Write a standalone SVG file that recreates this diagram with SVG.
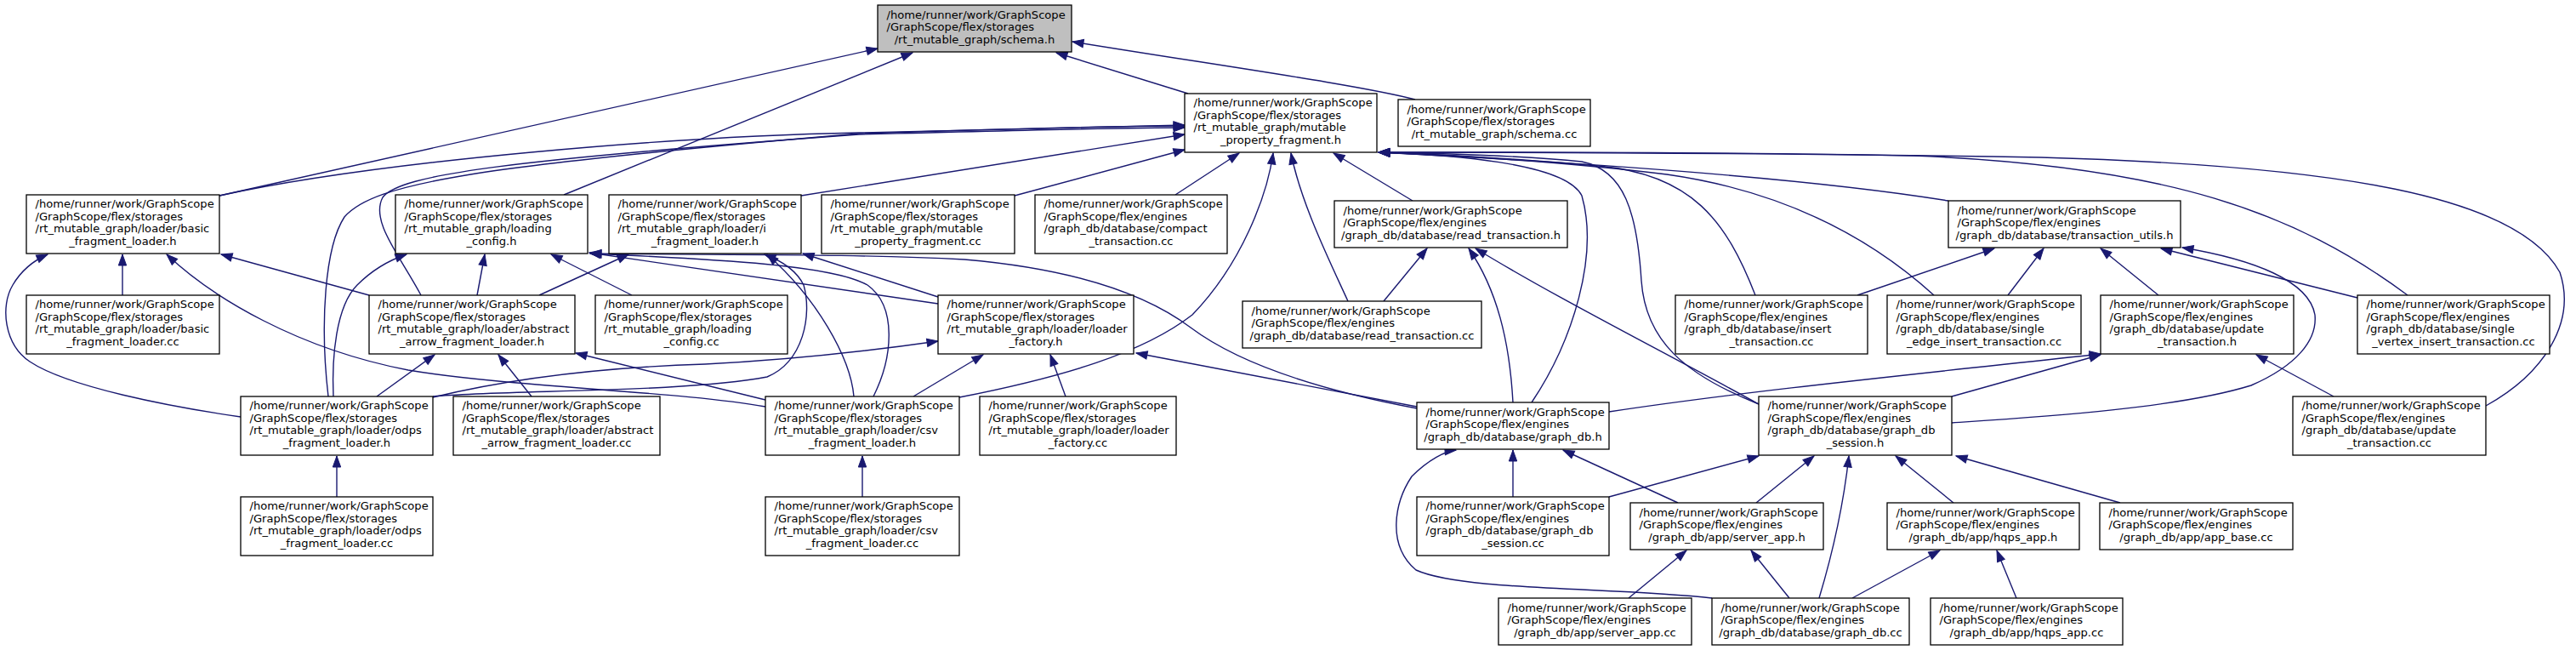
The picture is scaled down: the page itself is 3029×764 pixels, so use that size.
<svg xmlns="http://www.w3.org/2000/svg" width="3029" height="764" viewBox="0 0 3029 764">
<style>
.e{fill:none;stroke:#191970;stroke-width:1.4}
.n rect{fill:#fff;stroke:#000;stroke-width:1.3}
.n.root rect{fill:#bfbfbf}
text{font-family:"DejaVu Sans","Liberation Sans",sans-serif;font-size:13.1px;fill:#000}
.c{text-anchor:middle}
</style>
<defs>
<marker id="a" markerWidth="14" markerHeight="10" refX="13" refY="4.7" orient="auto" markerUnits="userSpaceOnUse" overflow="visible">
<path d="M0,0 L13,4.7 L0,9.4 z" fill="#191970" stroke="#191970" stroke-width="1"/>
</marker>
</defs>
<rect width="3029" height="764" fill="#fff"/>
<g id="connectors" marker-end="url(#a)">
<path class="e" marker-end="url(#a)" d="M258,230 L1032,57"/>
<path class="e" marker-end="url(#a)" d="M663,229 L1073,62"/>
<path class="e" marker-end="url(#a)" d="M1397,110 L1242,62"/>
<path class="e" marker-end="url(#a)" d="M1664,117 C1600,100 1420,75 1261,49"/>
<path class="e" marker-end="url(#a)" d="M258,230 C450,188 800,160 1010,156 C1200,152 1330,149 1393,147"/>
<path class="e" marker-end="url(#a)" d="M495,347 C470,300 435,260 450,232 C470,205 600,188 1010,158 C1200,153 1330,150 1393,150"/>
<path class="e" marker-end="url(#a)" d="M386,466 C376,380 382,290 405,255 C440,215 560,195 1010,157 C1200,151 1330,148 1393,148"/>
<path class="e" marker-end="url(#a)" d="M942,230 L1393,158"/>
<path class="e" marker-end="url(#a)" d="M1193,230 L1393,176"/>
<path class="e" marker-end="url(#a)" d="M1382,229 L1457,180"/>
<path class="e" marker-end="url(#a)" d="M1128,467 C1250,443 1344,415 1402,370 C1460,310 1490,230 1497,180"/>
<path class="e" marker-end="url(#a)" d="M1585,354 C1565,310 1530,240 1518,180"/>
<path class="e" marker-end="url(#a)" d="M1661,236 L1568,180"/>
<path class="e" marker-end="url(#a)" d="M1801,473 C1850,400 1880,300 1860,230 C1840,190 1700,182 1621,179"/>
<path class="e" marker-end="url(#a)" d="M2068,475 C1980,440 1935,400 1930,330 C1925,250 1910,200 1860,190 C1780,182 1680,180 1621,179"/>
<path class="e" marker-end="url(#a)" d="M2064,347 C2030,260 1990,205 1880,195 C1780,186 1680,181 1621,179"/>
<path class="e" marker-end="url(#a)" d="M2274,347 C2200,280 2100,225 1960,205 C1840,190 1700,182 1621,179"/>
<path class="e" marker-end="url(#a)" d="M2291,236 C2100,205 1800,188 1621,179"/>
<path class="e" marker-end="url(#a)" d="M2831,347 C2700,250 2550,195 2250,183 C2000,178 1750,179 1621,179"/>
<path class="e" marker-end="url(#a)" d="M2923,477 C2990,440 3030,380 3010,320 C2960,230 2750,195 2400,185 C2100,180 1800,179 1621,179"/>
<path class="e" marker-end="url(#a)" d="M434,347 L260,299"/>
<path class="e" marker-end="url(#a)" d="M144,347 L144,299"/>
<path class="e" marker-end="url(#a)" d="M283,490 C200,478 80,455 35,425 C5,405 0,360 15,335 C25,318 40,306 56,299"/>
<path class="e" marker-end="url(#a)" d="M900,478 C800,460 600,455 480,435 C350,410 250,350 196,299"/>
<path class="e" marker-end="url(#a)" d="M392,466 C390,420 395,360 420,335 C440,315 460,305 478,299"/>
<path class="e" marker-end="url(#a)" d="M561,347 L570,299"/>
<path class="e" marker-end="url(#a)" d="M743,347 L648,299"/>
<path class="e" marker-end="url(#a)" d="M1103,357 L693,297"/>
<path class="e" marker-end="url(#a)" d="M1027,466 C1050,420 1055,360 1020,335 C980,312 850,305 694,298"/>
<path class="e" marker-end="url(#a)" d="M1666,480 C1560,460 1460,430 1400,385 C1340,340 1250,315 1134,305 C1000,298 850,300 694,298"/>
<path class="e" marker-end="url(#a)" d="M634,347 L739,299"/>
<path class="e" marker-end="url(#a)" d="M1004,466 C1000,420 960,350 902,299"/>
<path class="e" marker-end="url(#a)" d="M509,466 C600,458 800,462 902,443 C945,425 955,370 945,335 C935,315 915,305 899,299"/>
<path class="e" marker-end="url(#a)" d="M1103,349 L944,298"/>
<path class="e" marker-end="url(#a)" d="M443,466 L511,417"/>
<path class="e" marker-end="url(#a)" d="M625,466 L586,417"/>
<path class="e" marker-end="url(#a)" d="M900,470 L677,415"/>
<path class="e" marker-end="url(#a)" d="M396,584 L396,536"/>
<path class="e" marker-end="url(#a)" d="M1014,584 L1014,536"/>
<path class="e" marker-end="url(#a)" d="M1253,466 L1235,417"/>
<path class="e" marker-end="url(#a)" d="M1074,466 L1156,417"/>
<path class="e" marker-end="url(#a)" d="M509,467 C600,445 700,432 829,428 C950,422 1040,410 1103,401"/>
<path class="e" marker-end="url(#a)" d="M1666,478 L1336,415"/>
<path class="e" marker-end="url(#a)" d="M1627,354 L1678,292"/>
<path class="e" marker-end="url(#a)" d="M1779,473 C1775,400 1760,340 1727,292"/>
<path class="e" marker-end="url(#a)" d="M2068,475 C1950,410 1830,350 1735,292"/>
<path class="e" marker-end="url(#a)" d="M2184,347 L2345,292"/>
<path class="e" marker-end="url(#a)" d="M2361,347 L2403,292"/>
<path class="e" marker-end="url(#a)" d="M2538,347 L2470,292"/>
<path class="e" marker-end="url(#a)" d="M2772,350 L2541,292"/>
<path class="e" marker-end="url(#a)" d="M2295,497 C2400,490 2560,480 2647,453 C2700,430 2725,400 2722,370 C2715,330 2650,305 2566,291"/>
<path class="e" marker-end="url(#a)" d="M2744,466 L2653,417"/>
<path class="e" marker-end="url(#a)" d="M1892,484 C2050,460 2250,440 2470,416"/>
<path class="e" marker-end="url(#a)" d="M2295,466 L2470,417"/>
<path class="e" marker-end="url(#a)" d="M1779,584 L1779,529"/>
<path class="e" marker-end="url(#a)" d="M2013,703 C1900,690 1720,695 1665,670 C1630,640 1640,590 1660,560 C1680,540 1700,530 1712,529"/>
<path class="e" marker-end="url(#a)" d="M1973,591 L1838,529"/>
<path class="e" marker-end="url(#a)" d="M1892,584 L2068,536"/>
<path class="e" marker-end="url(#a)" d="M2065,591 L2133,536"/>
<path class="e" marker-end="url(#a)" d="M2139,703 C2155,650 2168,590 2174,536"/>
<path class="e" marker-end="url(#a)" d="M2297,591 L2229,536"/>
<path class="e" marker-end="url(#a)" d="M2493,591 L2300,536"/>
<path class="e" marker-end="url(#a)" d="M1915,703 L1983,647"/>
<path class="e" marker-end="url(#a)" d="M2104,703 L2059,647"/>
<path class="e" marker-end="url(#a)" d="M2178,703 L2281,647"/>
<path class="e" marker-end="url(#a)" d="M2371,703 L2348,647"/>
</g>
<g id="n_schema_h" class="n root"><rect x="1032" y="6" width="228" height="55"/><text x="1042.5" y="21.5">/home/runner/work/GraphScope</text><text x="1042.5" y="36.1">/GraphScope/flex/storages</text><text class="c" x="1146" y="50.7">/rt_mutable_graph/schema.h</text></g>
<g id="n_mpf_h" class="n"><rect x="1393" y="110" width="226" height="69"/><text x="1403.5" y="125">/home/runner/work/GraphScope</text><text x="1403.5" y="139.6">/GraphScope/flex/storages</text><text x="1403.5" y="154.2">/rt_mutable_graph/mutable</text><text class="c" x="1506" y="168.8">_property_fragment.h</text></g>
<g id="n_schema_cc" class="n"><rect x="1644" y="117" width="226" height="55"/><text x="1654.5" y="132.5">/home/runner/work/GraphScope</text><text x="1654.5" y="147.1">/GraphScope/flex/storages</text><text class="c" x="1757" y="161.7">/rt_mutable_graph/schema.cc</text></g>
<g id="n_basic_h" class="n"><rect x="31" y="229" width="227" height="69"/><text x="41.5" y="244">/home/runner/work/GraphScope</text><text x="41.5" y="258.6">/GraphScope/flex/storages</text><text x="41.5" y="273.2">/rt_mutable_graph/loader/basic</text><text class="c" x="144.5" y="287.8">_fragment_loader.h</text></g>
<g id="n_loading_config_h" class="n"><rect x="465" y="229" width="226" height="69"/><text x="475.5" y="244">/home/runner/work/GraphScope</text><text x="475.5" y="258.6">/GraphScope/flex/storages</text><text x="475.5" y="273.2">/rt_mutable_graph/loading</text><text class="c" x="578" y="287.8">_config.h</text></g>
<g id="n_i_fragment_loader_h" class="n"><rect x="716" y="229" width="226" height="69"/><text x="726.5" y="244">/home/runner/work/GraphScope</text><text x="726.5" y="258.6">/GraphScope/flex/storages</text><text x="726.5" y="273.2">/rt_mutable_graph/loader/i</text><text class="c" x="829" y="287.8">_fragment_loader.h</text></g>
<g id="n_mpf_cc" class="n"><rect x="966" y="229" width="227" height="69"/><text x="976.5" y="244">/home/runner/work/GraphScope</text><text x="976.5" y="258.6">/GraphScope/flex/storages</text><text x="976.5" y="273.2">/rt_mutable_graph/mutable</text><text class="c" x="1079.5" y="287.8">_property_fragment.cc</text></g>
<g id="n_compact_transaction_cc" class="n"><rect x="1217" y="229" width="226" height="69"/><text x="1227.5" y="244">/home/runner/work/GraphScope</text><text x="1227.5" y="258.6">/GraphScope/flex/engines</text><text x="1227.5" y="273.2">/graph_db/database/compact</text><text class="c" x="1330" y="287.8">_transaction.cc</text></g>
<g id="n_read_transaction_h" class="n"><rect x="1569" y="236" width="274" height="55"/><text x="1579.5" y="251.5">/home/runner/work/GraphScope</text><text x="1579.5" y="266.1">/GraphScope/flex/engines</text><text class="c" x="1706" y="280.7">/graph_db/database/read_transaction.h</text></g>
<g id="n_transaction_utils_h" class="n"><rect x="2291" y="236" width="273" height="55"/><text x="2301.5" y="251.5">/home/runner/work/GraphScope</text><text x="2301.5" y="266.1">/GraphScope/flex/engines</text><text class="c" x="2427.5" y="280.7">/graph_db/database/transaction_utils.h</text></g>
<g id="n_basic_cc" class="n"><rect x="31" y="347" width="227" height="69"/><text x="41.5" y="362">/home/runner/work/GraphScope</text><text x="41.5" y="376.6">/GraphScope/flex/storages</text><text x="41.5" y="391.2">/rt_mutable_graph/loader/basic</text><text class="c" x="144.5" y="405.8">_fragment_loader.cc</text></g>
<g id="n_abstract_h" class="n"><rect x="434" y="347" width="242" height="69"/><text x="444.5" y="362">/home/runner/work/GraphScope</text><text x="444.5" y="376.6">/GraphScope/flex/storages</text><text x="444.5" y="391.2">/rt_mutable_graph/loader/abstract</text><text class="c" x="555" y="405.8">_arrow_fragment_loader.h</text></g>
<g id="n_loading_config_cc" class="n"><rect x="700" y="347" width="226" height="69"/><text x="710.5" y="362">/home/runner/work/GraphScope</text><text x="710.5" y="376.6">/GraphScope/flex/storages</text><text x="710.5" y="391.2">/rt_mutable_graph/loading</text><text class="c" x="813" y="405.8">_config.cc</text></g>
<g id="n_loader_factory_h" class="n"><rect x="1103" y="347" width="230" height="69"/><text x="1113.5" y="362">/home/runner/work/GraphScope</text><text x="1113.5" y="376.6">/GraphScope/flex/storages</text><text x="1113.5" y="391.2">/rt_mutable_graph/loader/loader</text><text class="c" x="1218" y="405.8">_factory.h</text></g>
<g id="n_read_transaction_cc" class="n"><rect x="1461" y="354" width="281" height="55"/><text x="1471.5" y="369.5">/home/runner/work/GraphScope</text><text x="1471.5" y="384.1">/GraphScope/flex/engines</text><text class="c" x="1601.5" y="398.7">/graph_db/database/read_transaction.cc</text></g>
<g id="n_insert_transaction_cc" class="n"><rect x="1970" y="347" width="226" height="69"/><text x="1980.5" y="362">/home/runner/work/GraphScope</text><text x="1980.5" y="376.6">/GraphScope/flex/engines</text><text x="1980.5" y="391.2">/graph_db/database/insert</text><text class="c" x="2083" y="405.8">_transaction.cc</text></g>
<g id="n_single_edge_insert_transaction_cc" class="n"><rect x="2219" y="347" width="228" height="69"/><text x="2229.5" y="362">/home/runner/work/GraphScope</text><text x="2229.5" y="376.6">/GraphScope/flex/engines</text><text x="2229.5" y="391.2">/graph_db/database/single</text><text class="c" x="2333" y="405.8">_edge_insert_transaction.cc</text></g>
<g id="n_update_transaction_h" class="n"><rect x="2470" y="347" width="227" height="69"/><text x="2480.5" y="362">/home/runner/work/GraphScope</text><text x="2480.5" y="376.6">/GraphScope/flex/engines</text><text x="2480.5" y="391.2">/graph_db/database/update</text><text class="c" x="2583.5" y="405.8">_transaction.h</text></g>
<g id="n_single_vertex_insert_transaction_cc" class="n"><rect x="2772" y="347" width="226" height="69"/><text x="2782.5" y="362">/home/runner/work/GraphScope</text><text x="2782.5" y="376.6">/GraphScope/flex/engines</text><text x="2782.5" y="391.2">/graph_db/database/single</text><text class="c" x="2885" y="405.8">_vertex_insert_transaction.cc</text></g>
<g id="n_odps_h" class="n"><rect x="283" y="466" width="226" height="69"/><text x="293.5" y="481">/home/runner/work/GraphScope</text><text x="293.5" y="495.6">/GraphScope/flex/storages</text><text x="293.5" y="510.2">/rt_mutable_graph/loader/odps</text><text class="c" x="396" y="524.8">_fragment_loader.h</text></g>
<g id="n_abstract_cc" class="n"><rect x="533" y="466" width="243" height="69"/><text x="543.5" y="481">/home/runner/work/GraphScope</text><text x="543.5" y="495.6">/GraphScope/flex/storages</text><text x="543.5" y="510.2">/rt_mutable_graph/loader/abstract</text><text class="c" x="654.5" y="524.8">_arrow_fragment_loader.cc</text></g>
<g id="n_csv_h" class="n"><rect x="900" y="466" width="228" height="69"/><text x="910.5" y="481">/home/runner/work/GraphScope</text><text x="910.5" y="495.6">/GraphScope/flex/storages</text><text x="910.5" y="510.2">/rt_mutable_graph/loader/csv</text><text class="c" x="1014" y="524.8">_fragment_loader.h</text></g>
<g id="n_loader_factory_cc" class="n"><rect x="1152" y="466" width="231" height="69"/><text x="1162.5" y="481">/home/runner/work/GraphScope</text><text x="1162.5" y="495.6">/GraphScope/flex/storages</text><text x="1162.5" y="510.2">/rt_mutable_graph/loader/loader</text><text class="c" x="1267.5" y="524.8">_factory.cc</text></g>
<g id="n_graph_db_h" class="n"><rect x="1666" y="473" width="226" height="55"/><text x="1676.5" y="488.5">/home/runner/work/GraphScope</text><text x="1676.5" y="503.1">/GraphScope/flex/engines</text><text class="c" x="1779" y="517.7">/graph_db/database/graph_db.h</text></g>
<g id="n_graph_db_session_h" class="n"><rect x="2068" y="466" width="227" height="69"/><text x="2078.5" y="481">/home/runner/work/GraphScope</text><text x="2078.5" y="495.6">/GraphScope/flex/engines</text><text x="2078.5" y="510.2">/graph_db/database/graph_db</text><text class="c" x="2181.5" y="524.8">_session.h</text></g>
<g id="n_update_transaction_cc" class="n"><rect x="2696" y="466" width="227" height="69"/><text x="2706.5" y="481">/home/runner/work/GraphScope</text><text x="2706.5" y="495.6">/GraphScope/flex/engines</text><text x="2706.5" y="510.2">/graph_db/database/update</text><text class="c" x="2809.5" y="524.8">_transaction.cc</text></g>
<g id="n_odps_cc" class="n"><rect x="283" y="584" width="226" height="69"/><text x="293.5" y="599">/home/runner/work/GraphScope</text><text x="293.5" y="613.6">/GraphScope/flex/storages</text><text x="293.5" y="628.2">/rt_mutable_graph/loader/odps</text><text class="c" x="396" y="642.8">_fragment_loader.cc</text></g>
<g id="n_csv_cc" class="n"><rect x="900" y="584" width="228" height="69"/><text x="910.5" y="599">/home/runner/work/GraphScope</text><text x="910.5" y="613.6">/GraphScope/flex/storages</text><text x="910.5" y="628.2">/rt_mutable_graph/loader/csv</text><text class="c" x="1014" y="642.8">_fragment_loader.cc</text></g>
<g id="n_graph_db_session_cc" class="n"><rect x="1666" y="584" width="226" height="69"/><text x="1676.5" y="599">/home/runner/work/GraphScope</text><text x="1676.5" y="613.6">/GraphScope/flex/engines</text><text x="1676.5" y="628.2">/graph_db/database/graph_db</text><text class="c" x="1779" y="642.8">_session.cc</text></g>
<g id="n_server_app_h" class="n"><rect x="1917" y="591" width="227" height="55"/><text x="1927.5" y="606.5">/home/runner/work/GraphScope</text><text x="1927.5" y="621.1">/GraphScope/flex/engines</text><text class="c" x="2030.5" y="635.7">/graph_db/app/server_app.h</text></g>
<g id="n_hqps_app_h" class="n"><rect x="2219" y="591" width="226" height="55"/><text x="2229.5" y="606.5">/home/runner/work/GraphScope</text><text x="2229.5" y="621.1">/GraphScope/flex/engines</text><text class="c" x="2332" y="635.7">/graph_db/app/hqps_app.h</text></g>
<g id="n_app_base_cc" class="n"><rect x="2469" y="591" width="227" height="55"/><text x="2479.5" y="606.5">/home/runner/work/GraphScope</text><text x="2479.5" y="621.1">/GraphScope/flex/engines</text><text class="c" x="2582.5" y="635.7">/graph_db/app/app_base.cc</text></g>
<g id="n_server_app_cc" class="n"><rect x="1762" y="703" width="227" height="55"/><text x="1772.5" y="718.5">/home/runner/work/GraphScope</text><text x="1772.5" y="733.1">/GraphScope/flex/engines</text><text class="c" x="1875.5" y="747.7">/graph_db/app/server_app.cc</text></g>
<g id="n_graph_db_cc" class="n"><rect x="2013" y="703" width="232" height="55"/><text x="2023.5" y="718.5">/home/runner/work/GraphScope</text><text x="2023.5" y="733.1">/GraphScope/flex/engines</text><text class="c" x="2129" y="747.7">/graph_db/database/graph_db.cc</text></g>
<g id="n_hqps_app_cc" class="n"><rect x="2270" y="703" width="226" height="55"/><text x="2280.5" y="718.5">/home/runner/work/GraphScope</text><text x="2280.5" y="733.1">/GraphScope/flex/engines</text><text class="c" x="2383" y="747.7">/graph_db/app/hqps_app.cc</text></g>
</svg>
